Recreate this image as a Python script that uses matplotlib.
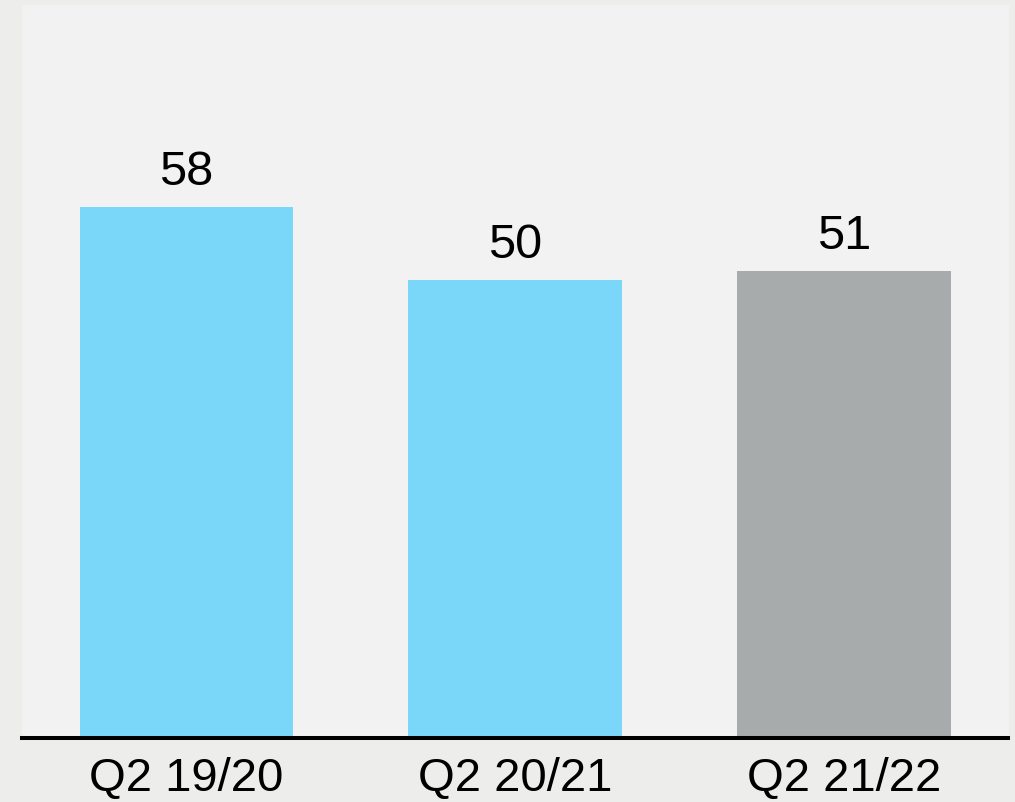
import matplotlib
matplotlib.use("Agg")
import matplotlib.pyplot as plt

categories = ["Q2 19/20", "Q2 20/21", "Q2 21/22"]
values = [58, 50, 51]
colors = ["#7BD7FA", "#7BD7FA", "#A7ABAC"]

plt.rcParams['font.family'] = ['Liberation Sans', 'DejaVu Sans']

fig = plt.figure(figsize=(10.15, 8.03), dpi=100, facecolor="#EDEDEB")
ax = fig.add_axes([22/1015, 64/803, (1008.5-22)/1015, (739-6)/803])
ax.set_facecolor("#F2F2F2")
x = list(range(len(categories)))
bars = ax.bar(x, values, width=0.65, color=colors, zorder=2)
ax.set_xlim(-0.5, 2.5)
ax.set_ylim(0, 80.0)
for xi, v in zip(x, values):
    ax.annotate(str(v), (xi, v), xytext=(0, 9), textcoords="offset points",
                ha="center", va="bottom", fontsize=35, color="black")
ax.set_xticks(x)
ax.set_xticklabels(categories, fontsize=34)
ax.tick_params(axis="x", length=0, pad=13)
ax.set_yticks([])
for s in ["top", "left", "right"]:
    ax.spines[s].set_visible(False)
ax.spines["bottom"].set_linewidth(2.9)
ax.spines["bottom"].set_color("black")
ax.spines["bottom"].set_zorder(3)
fig.savefig("out.png", dpi=100, facecolor=fig.get_facecolor())
